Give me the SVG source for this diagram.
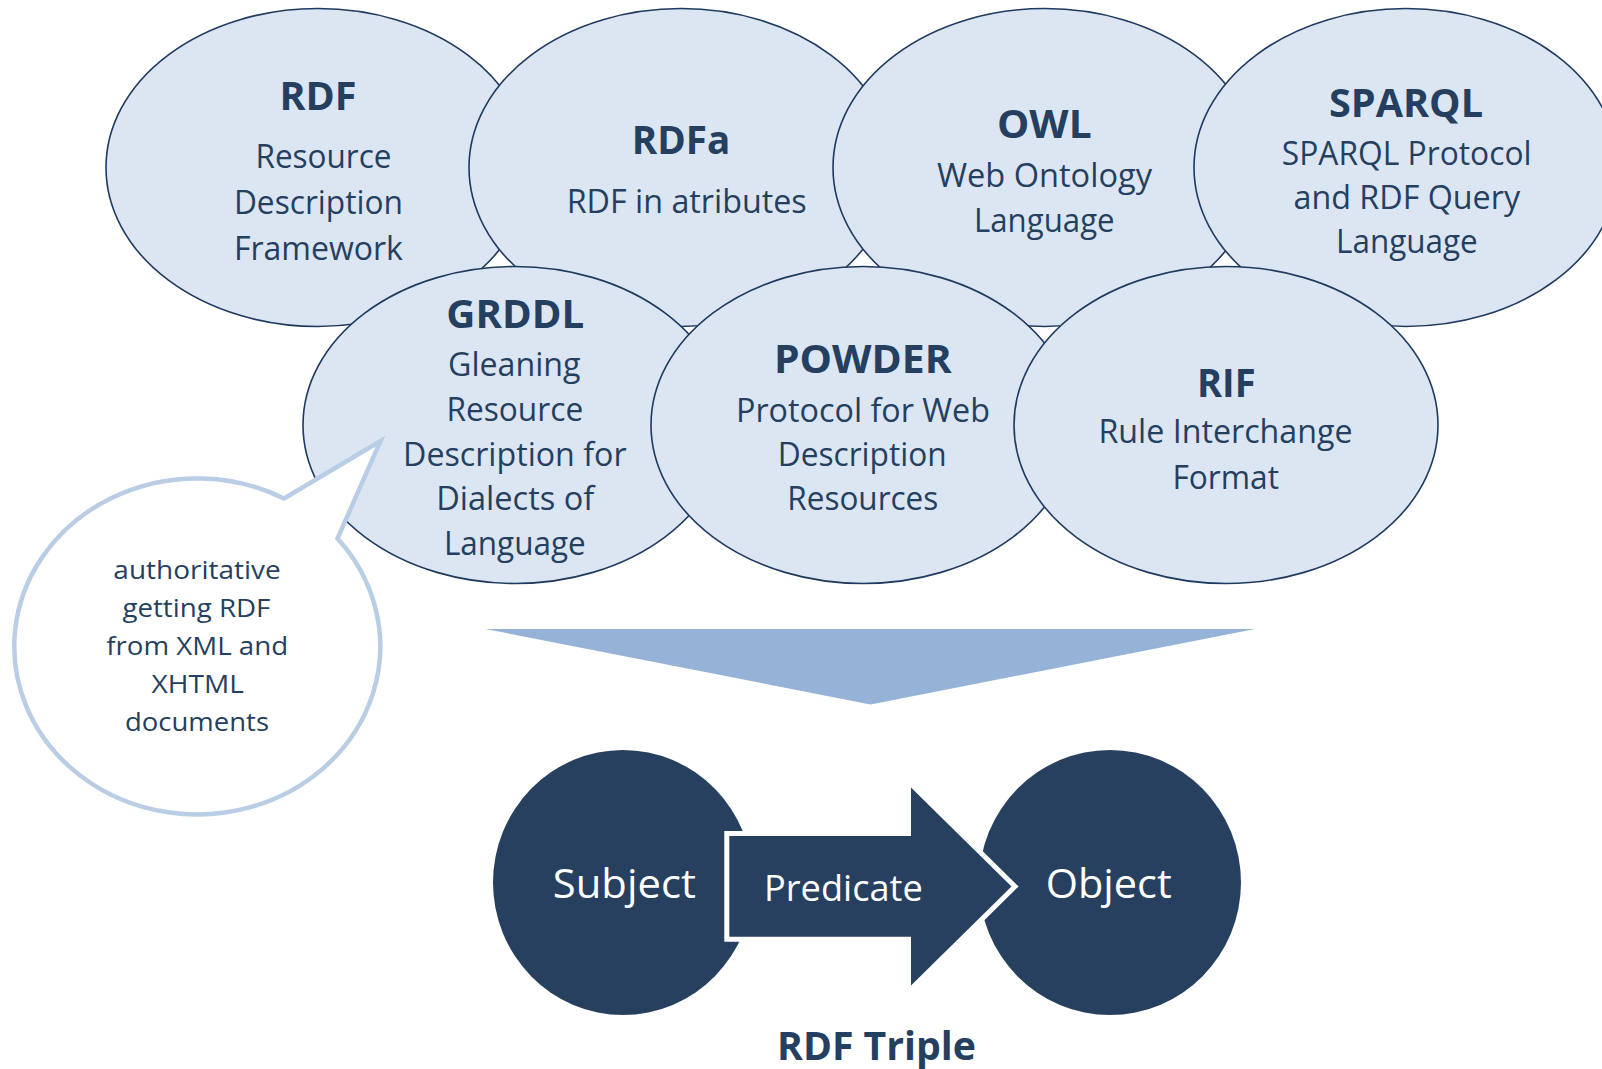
<svg xmlns="http://www.w3.org/2000/svg" width="1602" height="1069" viewBox="0 0 1602 1069">
  <style>
    .std { fill: #DCE6F2; stroke: #1F3A5F; stroke-width: 1.6; }
    .t { font-family: "Open Sans", "Noto Sans", "Liberation Sans", sans-serif; fill: #243F60; text-anchor: middle; }
    .title { font-size: 39px; font-weight: 700; }
    .body { font-size: 32px; }
    .note { font-size: 26px; }
    .dark { fill: #27405F; }
    .w { font-family: "Open Sans", "Noto Sans", "Liberation Sans", sans-serif; fill: #FFFFFF; text-anchor: middle; }
  </style>
  <rect width="1602" height="1069" fill="#FFFFFF"/>

  <!-- top row of standards -->
  <g id="rdf">
    <ellipse class="std" cx="318" cy="167.5" rx="212" ry="159"/>
    <text class="t title" x="318" y="110" textLength="77" lengthAdjust="spacingAndGlyphs">RDF</text>
    <text class="t body" x="323.5" y="167.5" textLength="136" lengthAdjust="spacingAndGlyphs">Resource</text>
    <text class="t body" x="318.4" y="214" textLength="169" lengthAdjust="spacingAndGlyphs">Description</text>
    <text class="t body" x="318.4" y="260" textLength="169" lengthAdjust="spacingAndGlyphs">Framework</text>
  </g>
  <g id="rdfa">
    <ellipse class="std" cx="681" cy="167.5" rx="212" ry="159"/>
    <text class="t title" x="681" y="154" textLength="98.5" lengthAdjust="spacingAndGlyphs">RDFa</text>
    <text class="t body" x="686.7" y="212.7" textLength="240" lengthAdjust="spacingAndGlyphs">RDF in atributes</text>
  </g>
  <g id="owl">
    <ellipse class="std" cx="1045" cy="167.5" rx="212" ry="159"/>
    <text class="t title" x="1044.3" y="138.3" textLength="94.6" lengthAdjust="spacingAndGlyphs">OWL</text>
    <text class="t body" x="1044.5" y="186.7" textLength="215" lengthAdjust="spacingAndGlyphs">Web Ontology</text>
    <text class="t body" x="1044.3" y="231.7" textLength="140.6" lengthAdjust="spacingAndGlyphs">Language</text>
  </g>
  <g id="sparql">
    <ellipse class="std" cx="1406" cy="167.5" rx="212" ry="159"/>
    <text class="t title" x="1406" y="116.7" textLength="154" lengthAdjust="spacingAndGlyphs">SPARQL</text>
    <text class="t body" x="1406.7" y="165" textLength="249.7" lengthAdjust="spacingAndGlyphs">SPARQL Protocol</text>
    <text class="t body" x="1406.8" y="209.3" textLength="226.6" lengthAdjust="spacingAndGlyphs">and RDF Query</text>
    <text class="t body" x="1406.9" y="253.3" textLength="141.7" lengthAdjust="spacingAndGlyphs">Language</text>
  </g>

  <!-- second row of standards -->
  <g id="grddl">
    <ellipse class="std" cx="515" cy="425" rx="212" ry="158.5"/>
    <text class="t title" x="515.2" y="328" textLength="137.8" lengthAdjust="spacingAndGlyphs">GRDDL</text>
    <text class="t body" x="514.3" y="376" textLength="132.6" lengthAdjust="spacingAndGlyphs">Gleaning</text>
    <text class="t body" x="514.8" y="421" textLength="136.8" lengthAdjust="spacingAndGlyphs">Resource</text>
    <text class="t body" x="514.8" y="465.5" textLength="223.5" lengthAdjust="spacingAndGlyphs">Description for</text>
    <text class="t body" x="515.2" y="510" textLength="158" lengthAdjust="spacingAndGlyphs">Dialects of</text>
    <text class="t body" x="514.8" y="554.5" textLength="141.8" lengthAdjust="spacingAndGlyphs">Language</text>
  </g>
  <g id="powder">
    <ellipse class="std" cx="863" cy="425" rx="212" ry="158.5"/>
    <text class="t title" x="862.8" y="373.3" textLength="177.7" lengthAdjust="spacingAndGlyphs">POWDER</text>
    <text class="t body" x="863" y="421.7" textLength="254" lengthAdjust="spacingAndGlyphs">Protocol for Web</text>
    <text class="t body" x="862.2" y="465.5" textLength="169" lengthAdjust="spacingAndGlyphs">Description</text>
    <text class="t body" x="862.8" y="510" textLength="151" lengthAdjust="spacingAndGlyphs">Resources</text>
  </g>
  <g id="rif">
    <ellipse class="std" cx="1226" cy="425" rx="212" ry="158.5"/>
    <text class="t title" x="1226.3" y="396.7" textLength="58.6" lengthAdjust="spacingAndGlyphs">RIF</text>
    <text class="t body" x="1225.5" y="443.3" textLength="254" lengthAdjust="spacingAndGlyphs">Rule Interchange</text>
    <text class="t body" x="1225.7" y="489" textLength="106.6" lengthAdjust="spacingAndGlyphs">Format</text>
  </g>

  <!-- speech bubble attached to GRDDL -->
  <g id="grddl-note">
    <path d="M 284 498.5 L 380.5 441 L 337.5 538.5 A 183 168 0 1 1 284 498.5 Z" fill="#FFFFFF" stroke="#B9CDE5" stroke-width="4.5" stroke-linejoin="miter"/>
    <text class="t note" x="197" y="579" textLength="167.3" lengthAdjust="spacingAndGlyphs">authoritative</text>
    <text class="t note" x="196.4" y="617" textLength="148" lengthAdjust="spacingAndGlyphs">getting RDF</text>
    <text class="t note" x="197.2" y="654.6" textLength="182" lengthAdjust="spacingAndGlyphs">from XML and</text>
    <text class="t note" x="197.7" y="693.2" textLength="92.3" lengthAdjust="spacingAndGlyphs">XHTML</text>
    <text class="t note" x="197" y="731.4" textLength="144" lengthAdjust="spacingAndGlyphs">documents</text>
  </g>

  <!-- funnel pointing down to the triple -->
  <g id="funnel">
    <polygon points="485.5,629 1255,629 870.5,704.5" fill="#95B3D7"/>
  </g>

  <!-- the RDF triple -->
  <g id="subject">
    <ellipse class="dark" cx="623" cy="882.5" rx="130" ry="132.5"/>
    <text class="w" x="624.3" y="898.3" font-size="41" textLength="143" lengthAdjust="spacingAndGlyphs">Subject</text>
  </g>
  <g id="object">
    <ellipse class="dark" cx="1110" cy="882.5" rx="131" ry="132.5"/>
    <text class="w" x="1108.7" y="898.3" font-size="41" textLength="126" lengthAdjust="spacingAndGlyphs">Object</text>
  </g>
  <g id="connectors">
    <g id="predicate">
      <!-- white outline painted under the fill so only its outer half shows -->
      <polygon class="dark" points="729.3,836 911,836 911,787.5 1011.5,886.5 911,985.5 911,936.7 729.3,936.7" stroke="#FFFFFF" stroke-width="10" stroke-linejoin="miter" paint-order="stroke"/>
      <text class="w" x="843.4" y="900.7" font-size="37" textLength="158.7" lengthAdjust="spacingAndGlyphs">Predicate</text>
    </g>
  </g>
  <g id="caption">
    <text class="t" x="876.5" y="1060" font-size="40" font-weight="700" textLength="199" lengthAdjust="spacingAndGlyphs">RDF Triple</text>
  </g>
</svg>
